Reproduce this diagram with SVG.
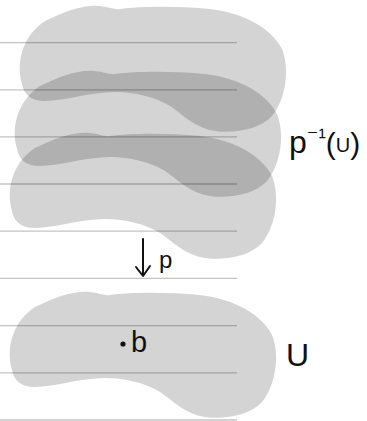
<svg xmlns="http://www.w3.org/2000/svg" width="367" height="421" viewBox="0 0 367 421">
<style>
.rule{stroke:#c4c4c4;stroke-width:1.3;fill:none}
.blob{fill:#000;fill-opacity:0.17}
.hand{font-family:"Liberation Sans","DejaVu Sans",sans-serif;fill:#111}
.conn{stroke:#111;stroke-width:2;fill:none;stroke-linecap:round;stroke-linejoin:round}
</style>
<defs>
<path id="shape" d="M 12,370 C 5,345 15,320 35,307 C 55,297 75,290 90,292 C 100,293 105,296 110,295 C 130,292 170,292 200,295 C 235,299 262,315 272,335 C 280,355 276,385 262,402 C 250,415 225,420 205,417 C 185,414 172,400 160,392 C 145,383 125,378 105,378 C 80,378 55,387 35,387 C 20,387 14,380 12,370 Z"/>
</defs>
<rect width="367" height="421" fill="#fff"/>
<g id="paper">
<line class="rule" x1="0" y1="42.7" x2="237" y2="42.7"/>
<line class="rule" x1="0" y1="89.8" x2="237" y2="89.8"/>
<line class="rule" x1="0" y1="136.9" x2="237" y2="136.9"/>
<line class="rule" x1="0" y1="184" x2="237" y2="184"/>
<line class="rule" x1="0" y1="231.2" x2="237" y2="231.2"/>
<line class="rule" x1="0" y1="278.4" x2="237" y2="278.4"/>
<line class="rule" x1="0" y1="325.6" x2="237" y2="325.6"/>
<line class="rule" x1="0" y1="372.8" x2="237" y2="372.8"/>
<line class="rule" x1="0" y1="420" x2="237" y2="420"/>
</g>
<g id="sheet1"><use href="#shape" class="blob" transform="translate(10,-286)"/></g>
<g id="sheet2"><use href="#shape" class="blob" transform="translate(5,-221)"/></g>
<g id="sheet3"><use href="#shape" class="blob" transform="translate(0,-159)"/></g>
<g id="U-set"><use href="#shape" class="blob"/>
<circle cx="123" cy="344" r="2.6" fill="#111"/>
<text class="hand" x="131" y="352" font-size="29">b</text>
</g>
<g id="preimage-label"><text class="hand" x="289" y="153" font-size="32">p<tspan font-size="22" dy="-9">⁻¹</tspan><tspan font-size="30" dy="10">(</tspan><tspan font-size="20" dy="-2">U</tspan><tspan font-size="30" dy="2">)</tspan></text></g>
<g id="U-label"><text class="hand" x="286" y="366" font-size="32">U</text></g>
<g id="connectors">
<path class="conn" d="M 143,239 L 143,275 M 136,267 L 143,276 L 150,266"/>
<text class="hand" x="159" y="268" font-size="24">p</text>
</g>
</svg>
